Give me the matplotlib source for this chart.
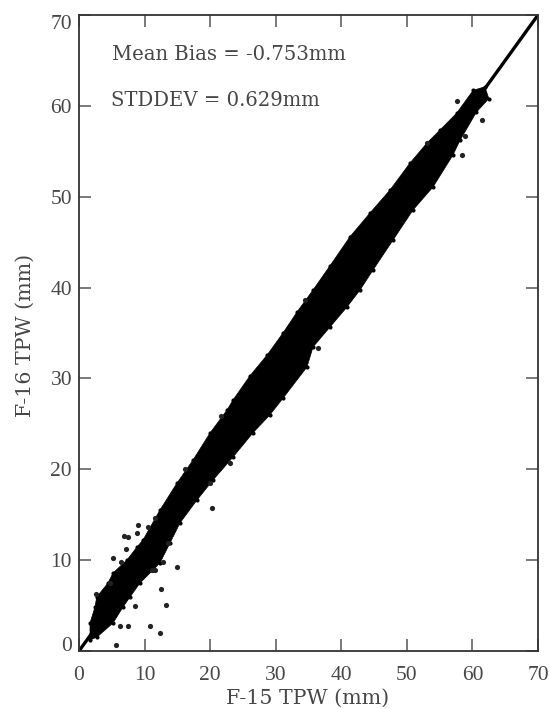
import matplotlib
matplotlib.use("Agg")
import matplotlib.pyplot as plt

# Outline of the dense point cloud (going up the top edge)
upper_x = [1.68, 2.44, 2.70, 4.42, 5.19, 7.32, 8.85, 9.76, 12.35, 14.95, 17.39, 19.98, 22.57, 23.49, 26.08, 28.67,
           31.11, 33.25, 35.69, 38.28, 41.33, 44.38, 47.43, 50.48, 53.07, 55.05, 57.6, 60.1, 61.9]
upper_y = [3.08, 4.84, 5.94, 7.48, 8.58, 10.02, 11.45, 12.22, 15.52, 18.49, 21.02, 23.99, 26.52, 27.62, 30.30, 32.56,
           35.00, 37.31, 39.73, 42.40, 45.60, 48.21, 50.74, 53.71, 55.91, 57.34, 59.2, 61.7, 62.1]
# ... and back down the bottom edge
lower_x = [62.5, 60.6, 58.1, 57.04, 53.99, 50.94, 47.89, 44.84, 42.85, 40.87, 38.28, 35.69, 34.77, 31.11, 29.13, 26.54,
           23.49, 20.44, 18.0, 15.4, 13.88, 12.35, 11.29, 9.3, 7.78, 6.71, 5.19, 2.75, 1.68]
lower_y = [60.8, 59.3, 56.2, 54.6, 51.07, 48.54, 45.23, 41.93, 39.73, 37.86, 35.66, 33.46, 31.26, 27.82, 26.00, 24.02,
           21.35, 18.82, 16.62, 14.09, 11.89, 9.69, 8.91, 7.48, 5.94, 4.84, 3.08, 1.54, 1.21]

# Individually visible points
outlier_x = [5.7, 6.25, 7.4, 10.8, 12.35, 8.5, 13.2, 12.5, 15.0, 12.8, 11.6, 11.1, 5.2, 6.4, 7.1, 6.9, 7.4, 8.8, 8.95,
             13.6, 20.3, 23.1, 2.55, 4.7, 10.5, 11.6, 36.4, 58.4, 61.4, 58.9, 57.6, 53.0,
             34.5, 16.2, 21.7, 20.0]
outlier_y = [0.66, 2.8, 2.7, 2.7, 2.0, 4.95, 5.05, 6.8, 9.2, 9.8, 8.9, 8.9, 10.2, 9.8, 11.2, 12.7, 12.5, 13.0, 13.9,
             11.9, 15.7, 20.66, 6.3, 7.5, 13.6, 14.6, 33.3, 54.6, 58.4, 56.7, 60.5, 55.9,
             38.6, 20.0, 25.9, 18.5]

ticks = [0, 10, 20, 30, 40, 50, 60, 70]
annotations = ["Mean Bias = -0.753mm", "STDDEV = 0.629mm"]
xlabel = "F-15 TPW (mm)"
ylabel = "F-16 TPW (mm)"

W, H = 549, 709
fig = plt.figure(figsize=(W / 100, H / 100), dpi=100)
ax = fig.add_axes([79 / W, 1 - 651 / H, 459 / W, 636 / H])
ink = "#474747"

ax.plot([0, 70], [0, 70], color="black", lw=2.4, zorder=2)
ax.fill(upper_x + lower_x, upper_y + lower_y, color="black", lw=0.5, zorder=3)
ax.scatter(upper_x + lower_x, upper_y + lower_y, s=9, color="black", zorder=3, linewidths=0)
ax.scatter(outlier_x, outlier_y, s=14, color="#222222", zorder=3, linewidths=0)

ax.set_xlim(0, 70)
ax.set_ylim(0, 70)
ax.set_xticks(ticks)
ax.set_yticks(ticks)
ax.tick_params(axis="both", which="major", direction="in", top=True, right=True,
               length=8.5, width=1.1, color="#555555", labelcolor=ink, labelsize=15.5,
               labelfontfamily="Liberation Serif")
ax.tick_params(axis="x", pad=10.5)
ax.tick_params(axis="y", pad=5)
for s in ax.spines.values():
    s.set_linewidth(1.3)
    s.set_color("#333333")
ylabels = ax.get_yticklabels()
ylabels[0].set_verticalalignment("baseline")
ylabels[-1].set_verticalalignment("top")

serif = "DejaVu Serif"
fig.text(112 / W, 1 - 54 / H, annotations[0], family=serif, fontsize=14.1, color=ink, va="center", ha="left")
fig.text(111 / W, 1 - 100 / H, annotations[1], family=serif, fontsize=14.1, color=ink, va="center", ha="left")
fig.text(308 / W, 1 - 698 / H, xlabel, family=serif, fontsize=14.8, color=ink, va="center", ha="center")
fig.text(25 / W, 1 - 335 / H, ylabel, family=serif, fontsize=14.8, color=ink, va="center", ha="center", rotation=90)

fig.savefig("out.png", dpi=100)
